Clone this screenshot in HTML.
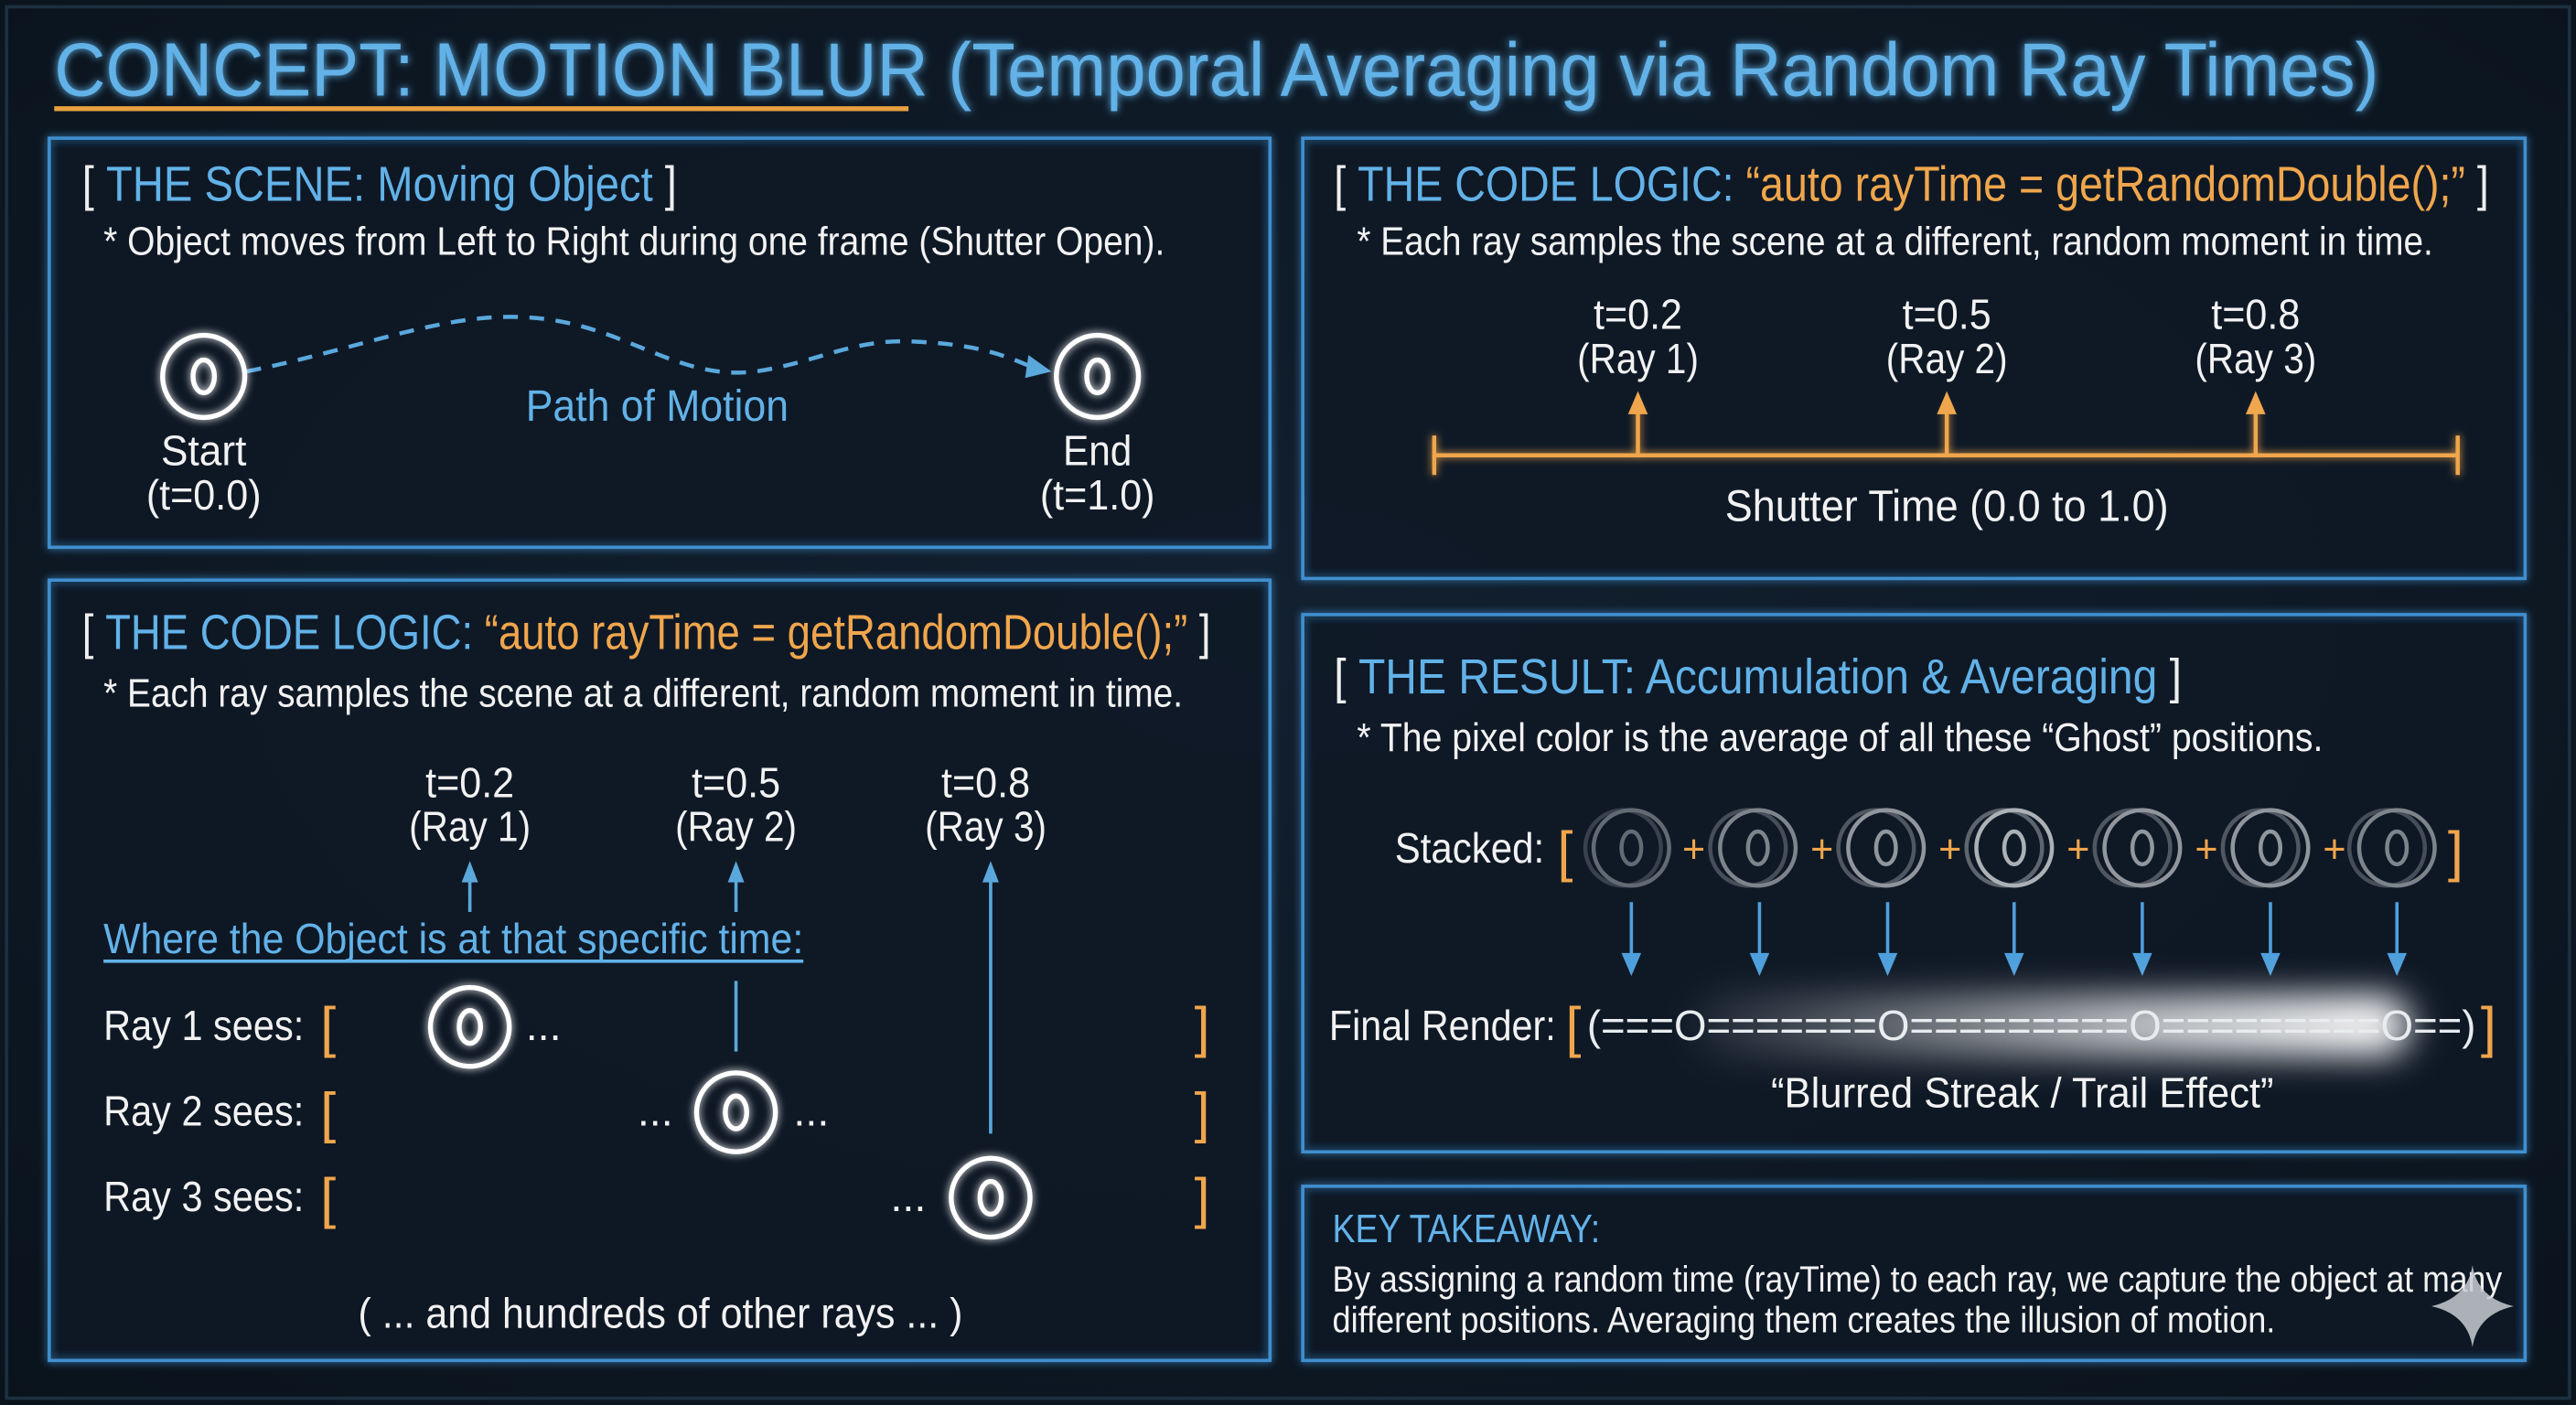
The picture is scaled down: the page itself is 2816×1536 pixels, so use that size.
<!DOCTYPE html>
<html><head><meta charset="utf-8"><style>
html,body{margin:0;padding:0;background:#0c1620;}
svg{display:block}
text{font-family:"Liberation Sans",sans-serif;}
</style></head><body>
<svg width="2816" height="1536" viewBox="0 0 1568 855" xmlns="http://www.w3.org/2000/svg">
<defs>
<radialGradient id="bg" cx="50%" cy="45%" r="75%"><stop offset="0" stop-color="#122030"/><stop offset="1" stop-color="#0a131c"/></radialGradient>
<filter id="gl" x="-20%" y="-20%" width="140%" height="140%"><feGaussianBlur stdDeviation="2.5" result="b"/><feMerge><feMergeNode in="b"/><feMergeNode in="SourceGraphic"/></feMerge></filter>
<filter id="blur" x="-30%" y="-100%" width="160%" height="300%"><feGaussianBlur stdDeviation="10"/></filter>
<linearGradient id="streak" x1="0" x2="1"><stop offset="0" stop-color="#fff" stop-opacity="0.05"/><stop offset="0.6" stop-color="#fff" stop-opacity="0.7"/><stop offset="0.95" stop-color="#fff" stop-opacity="0.95"/><stop offset="1" stop-color="#fff" stop-opacity="0.6"/></linearGradient>
</defs>
<rect width="1568" height="855" fill="url(#bg)"/>
<rect x="4" y="4" width="1560" height="847" fill="none" stroke="#1c3040" stroke-width="2"/>

<!-- Title -->
<text x="33" y="58" font-size="46" fill="#62b2e8" textLength="1415" lengthAdjust="spacingAndGlyphs" filter="url(#gl)">CONCEPT: MOTION BLUR (Temporal Averaging via Random Ray Times)</text>
<line x1="33" y1="66" x2="553" y2="66" stroke="#e8a040" stroke-width="3"/>

<!-- Panels -->
<g fill="#0d1824" fill-opacity="0.6" stroke="#3f8fcf" stroke-width="2" filter="url(#gl)">
<rect x="30" y="84" width="743" height="249"/>
<rect x="30" y="353" width="743" height="475"/>
<rect x="793" y="84" width="744" height="268"/>
<rect x="793" y="374" width="744" height="327"/>
<rect x="793" y="722" width="744" height="106"/>
</g>

<!-- Panel 1 -->
<text x="50" y="122" font-size="30" textLength="362" lengthAdjust="spacingAndGlyphs"><tspan fill="#eee">[ </tspan><tspan fill="#62b2e8">THE SCENE: Moving Object</tspan><tspan fill="#eee"> ]</tspan></text>
<text x="63" y="155" font-size="24" fill="#f2f2f2" textLength="646" lengthAdjust="spacingAndGlyphs">* Object moves from Left to Right during one frame (Shutter Open).</text>
<path d="M150,226 C220,212 270,190 320,193 C380,196 410,232 460,226 C500,220 520,205 560,208 C600,210 615,218 630,224" fill="none" stroke="#5aa8dc" stroke-width="2.5" stroke-dasharray="9,7"/>
<path d="M640,226 L626,216 L624,230 Z" fill="#5aa8dc"/>
<g fill="none" stroke="#fff" stroke-width="3" filter="url(#gl)">
<circle cx="124" cy="229" r="25"/><ellipse cx="124" cy="229" rx="6.5" ry="10"/>
<circle cx="668" cy="229" r="25"/><ellipse cx="668" cy="229" rx="6.5" ry="10"/>
</g>
<text x="400" y="256" font-size="27" fill="#62b2e8" text-anchor="middle" textLength="160" lengthAdjust="spacingAndGlyphs">Path of Motion</text>
<g fill="#f2f2f2" font-size="26" text-anchor="middle">
<text x="124" y="283" textLength="52" lengthAdjust="spacingAndGlyphs">Start</text>
<text x="124" y="310" textLength="70" lengthAdjust="spacingAndGlyphs">(t=0.0)</text>
<text x="668" y="283" textLength="42" lengthAdjust="spacingAndGlyphs">End</text>
<text x="668" y="310" textLength="70" lengthAdjust="spacingAndGlyphs">(t=1.0)</text>
</g>

<!-- Panel 3 -->
<text x="812" y="122" font-size="30" textLength="703" lengthAdjust="spacingAndGlyphs"><tspan fill="#eee">[ </tspan><tspan fill="#62b2e8">THE CODE LOGIC: </tspan><tspan fill="#f0a64c">“auto rayTime = getRandomDouble();”</tspan><tspan fill="#eee"> ]</tspan></text>
<text x="826" y="155" font-size="24" fill="#f2f2f2" textLength="655" lengthAdjust="spacingAndGlyphs">* Each ray samples the scene at a different, random moment in time.</text>
<g fill="#f2f2f2" font-size="26" text-anchor="middle">
<text x="997" y="200" textLength="54" lengthAdjust="spacingAndGlyphs">t=0.2</text><text x="997" y="227" textLength="74" lengthAdjust="spacingAndGlyphs">(Ray 1)</text>
<text x="1185" y="200" textLength="54" lengthAdjust="spacingAndGlyphs">t=0.5</text><text x="1185" y="227" textLength="74" lengthAdjust="spacingAndGlyphs">(Ray 2)</text>
<text x="1373" y="200" textLength="54" lengthAdjust="spacingAndGlyphs">t=0.8</text><text x="1373" y="227" textLength="74" lengthAdjust="spacingAndGlyphs">(Ray 3)</text>
</g>
<g stroke="#f0a64c" stroke-width="2.5" fill="none" filter="url(#gl)">
<line x1="873" y1="277" x2="1496" y2="277"/>
<line x1="873" y1="265" x2="873" y2="289"/><line x1="1496" y1="265" x2="1496" y2="289"/>
<line x1="997" y1="277" x2="997" y2="248"/><line x1="1185" y1="277" x2="1185" y2="248"/><line x1="1373" y1="277" x2="1373" y2="248"/>
</g>
<g fill="#f0a64c"><path d="M991,252 L997,238 L1003,252Z"/><path d="M1179,252 L1185,238 L1191,252Z"/><path d="M1367,252 L1373,238 L1379,252Z"/></g>
<text x="1185" y="317" font-size="27" fill="#f2f2f2" text-anchor="middle" textLength="270" lengthAdjust="spacingAndGlyphs">Shutter Time (0.0 to 1.0)</text>

<!-- Panel 2 -->
<text x="50" y="395" font-size="30" textLength="687" lengthAdjust="spacingAndGlyphs"><tspan fill="#eee">[ </tspan><tspan fill="#62b2e8">THE CODE LOGIC: </tspan><tspan fill="#f0a64c">“auto rayTime = getRandomDouble();”</tspan><tspan fill="#eee"> ]</tspan></text>
<text x="63" y="430" font-size="24" fill="#f2f2f2" textLength="657" lengthAdjust="spacingAndGlyphs">* Each ray samples the scene at a different, random moment in time.</text>
<g fill="#f2f2f2" font-size="26" text-anchor="middle">
<text x="286" y="485" textLength="54" lengthAdjust="spacingAndGlyphs">t=0.2</text><text x="286" y="512" textLength="74" lengthAdjust="spacingAndGlyphs">(Ray 1)</text>
<text x="448" y="485" textLength="54" lengthAdjust="spacingAndGlyphs">t=0.5</text><text x="448" y="512" textLength="74" lengthAdjust="spacingAndGlyphs">(Ray 2)</text>
<text x="600" y="485" textLength="54" lengthAdjust="spacingAndGlyphs">t=0.8</text><text x="600" y="512" textLength="74" lengthAdjust="spacingAndGlyphs">(Ray 3)</text>
</g>
<g stroke="#5aa8dc" stroke-width="2">
<line x1="286" y1="555" x2="286" y2="532"/><line x1="448" y1="555" x2="448" y2="532"/><line x1="603" y1="690" x2="603" y2="532"/>
<line x1="448" y1="597" x2="448" y2="640"/>
</g>
<g fill="#5aa8dc"><path d="M281,537 L286,524 L291,537Z"/><path d="M443,537 L448,524 L453,537Z"/><path d="M598,537 L603,524 L608,537Z"/></g>
<text x="63" y="580" font-size="26" fill="#62b2e8" textLength="426" lengthAdjust="spacingAndGlyphs">Where the Object is at that specific time:</text>
<line x1="63" y1="585" x2="489" y2="585" stroke="#62b2e8" stroke-width="2"/>
<g fill="#f2f2f2" font-size="26">
<text x="63" y="633" textLength="122" lengthAdjust="spacingAndGlyphs">Ray 1 sees:</text>
<text x="63" y="685" textLength="122" lengthAdjust="spacingAndGlyphs">Ray 2 sees:</text>
<text x="63" y="737" textLength="122" lengthAdjust="spacingAndGlyphs">Ray 3 sees:</text>
<text x="320" y="633">...</text><text x="388" y="685">...</text><text x="483" y="685">...</text><text x="542" y="737">...</text>
</g>
<g fill="#f0a64c" font-size="34">
<text x="195" y="637">[</text><text x="195" y="689">[</text><text x="195" y="741">[</text>
<text x="727" y="637">]</text><text x="727" y="689">]</text><text x="727" y="741">]</text>
</g>
<g fill="none" stroke="#fff" stroke-width="3" filter="url(#gl)">
<circle cx="286" cy="625" r="24"/><ellipse cx="286" cy="625" rx="6.5" ry="10"/>
<circle cx="448" cy="677" r="24"/><ellipse cx="448" cy="677" rx="6.5" ry="10"/>
<circle cx="603" cy="729" r="24"/><ellipse cx="603" cy="729" rx="6.5" ry="10"/>
</g>
<text x="402" y="808" font-size="26" fill="#f2f2f2" text-anchor="middle" textLength="368" lengthAdjust="spacingAndGlyphs">( ... and hundreds of other rays ... )</text>

<!-- Panel 4 -->
<text x="812" y="422" font-size="30" textLength="516" lengthAdjust="spacingAndGlyphs"><tspan fill="#eee">[ </tspan><tspan fill="#62b2e8">THE RESULT: Accumulation &amp; Averaging</tspan><tspan fill="#eee"> ]</tspan></text>
<text x="826" y="457" font-size="24" fill="#f2f2f2" textLength="588" lengthAdjust="spacingAndGlyphs">* The pixel color is the average of all these “Ghost” positions.</text>
<text x="849" y="525" font-size="26" fill="#f2f2f2" textLength="91" lengthAdjust="spacingAndGlyphs">Stacked:</text>
<g fill="#f0a64c" font-size="34"><text x="948" y="530">[</text><text x="1490" y="530">]</text></g>
<g fill="#f0a64c" font-size="24" text-anchor="middle">
<text x="1031" y="525">+</text><text x="1109" y="525">+</text><text x="1187" y="525">+</text><text x="1265" y="525">+</text><text x="1343" y="525">+</text><text x="1421" y="525">+</text>
</g>
<g fill="none" stroke="#c8ccd0" stroke-width="2.5">
<g opacity="0.45"><circle cx="993" cy="516" r="23"/><circle cx="988" cy="516" r="23" opacity="0.5"/><ellipse cx="993" cy="516" rx="6" ry="10"/></g>
<g opacity="0.6"><circle cx="1070" cy="516" r="23"/><circle cx="1064" cy="516" r="23" opacity="0.5"/><ellipse cx="1070" cy="516" rx="6" ry="10"/></g>
<g opacity="0.7"><circle cx="1148" cy="516" r="23"/><circle cx="1142" cy="516" r="23" opacity="0.5"/><ellipse cx="1148" cy="516" rx="6" ry="10"/></g>
<g opacity="0.85"><circle cx="1226" cy="516" r="23"/><circle cx="1220" cy="516" r="23" opacity="0.5"/><ellipse cx="1226" cy="516" rx="6" ry="10"/></g>
<g opacity="0.7"><circle cx="1304" cy="516" r="23"/><circle cx="1298" cy="516" r="23" opacity="0.5"/><ellipse cx="1304" cy="516" rx="6" ry="10"/></g>
<g opacity="0.7"><circle cx="1382" cy="516" r="23"/><circle cx="1376" cy="516" r="23" opacity="0.5"/><ellipse cx="1382" cy="516" rx="6" ry="10"/></g>
<g opacity="0.6"><circle cx="1459" cy="516" r="23"/><circle cx="1453" cy="516" r="23" opacity="0.5"/><ellipse cx="1459" cy="516" rx="6" ry="10"/></g>
</g>
<g stroke="#4ea0dc" stroke-width="2">
<line x1="993" y1="549" x2="993" y2="585"/><line x1="1071" y1="549" x2="1071" y2="585"/><line x1="1149" y1="549" x2="1149" y2="585"/><line x1="1226" y1="549" x2="1226" y2="585"/><line x1="1304" y1="549" x2="1304" y2="585"/><line x1="1382" y1="549" x2="1382" y2="585"/><line x1="1459" y1="549" x2="1459" y2="585"/>
</g>
<g fill="#4ea0dc">
<path d="M987,580 L993,594 L999,580Z"/><path d="M1065,580 L1071,594 L1077,580Z"/><path d="M1143,580 L1149,594 L1155,580Z"/><path d="M1220,580 L1226,594 L1232,580Z"/><path d="M1298,580 L1304,594 L1310,580Z"/><path d="M1376,580 L1382,594 L1388,580Z"/><path d="M1453,580 L1459,594 L1465,580Z"/>
</g>
<rect x="1030" y="605" width="440" height="38" rx="19" fill="url(#streak)" filter="url(#blur)"/>
<text x="809" y="633" font-size="26" fill="#f2f2f2" textLength="138" lengthAdjust="spacingAndGlyphs">Final Render:</text>
<g fill="#f0a64c" font-size="34"><text x="953" y="637">[</text><text x="1510" y="637">]</text></g>
<text x="966" y="633" font-size="26" fill="#e8ecef" textLength="541" lengthAdjust="spacingAndGlyphs">(===O=======O=========O=========O==)</text>
<text x="1231" y="674" font-size="26" fill="#f2f2f2" text-anchor="middle" textLength="306" lengthAdjust="spacingAndGlyphs">“Blurred Streak / Trail Effect”</text>

<!-- Panel 5 -->
<text x="811" y="756" font-size="24" fill="#62b2e8" textLength="163" lengthAdjust="spacingAndGlyphs">KEY TAKEAWAY:</text>
<text x="811" y="786" font-size="22" fill="#f2f2f2" textLength="712" lengthAdjust="spacingAndGlyphs">By assigning a random time (rayTime) to each ray, we capture the object at many</text>
<text x="811" y="811" font-size="22" fill="#f2f2f2" textLength="574" lengthAdjust="spacingAndGlyphs">different positions. Averaging them creates the illusion of motion.</text>
<path d="M1505,770 Q1508,790 1530,795 Q1508,800 1505,820 Q1502,800 1480,795 Q1502,790 1505,770Z" fill="#c8ccd2" opacity="0.85"/>
</svg>
</body></html>
